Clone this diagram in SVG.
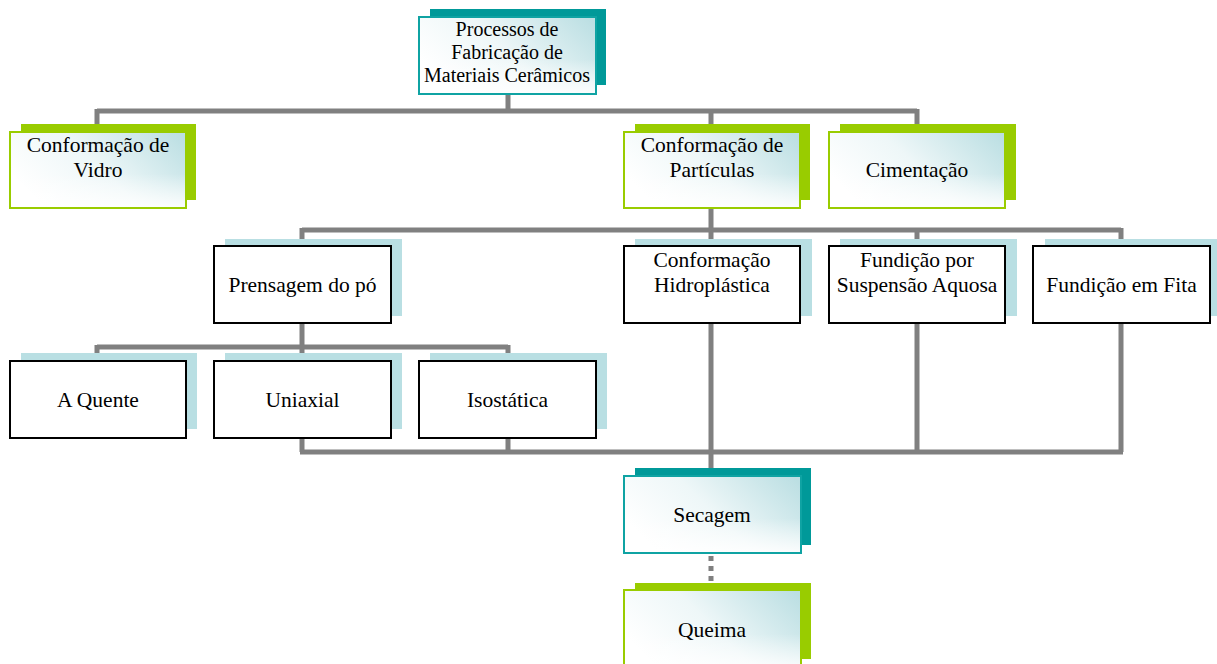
<svg xmlns="http://www.w3.org/2000/svg" width="1217" height="664" viewBox="0 0 1217 664">
<defs>
<linearGradient id="g" x1="0" y1="0.55" x2="1" y2="0.1">
<stop offset="0" stop-color="#ffffff"/>
<stop offset="0.45" stop-color="#eef7f8"/>
<stop offset="1" stop-color="#bcdfe3"/>
</linearGradient>
<linearGradient id="v" x1="0" y1="0" x2="0" y2="1">
<stop offset="0" stop-color="#ffffff" stop-opacity="0"/>
<stop offset="0.55" stop-color="#ffffff" stop-opacity="0"/>
<stop offset="1" stop-color="#ffffff" stop-opacity="0.85"/>
</linearGradient>
<style>
.c{stroke:#808080;stroke-width:5;fill:none}
.d{stroke:#808080;stroke-width:5;fill:none;stroke-dasharray:5 5}
.st{fill:#009999}
.sg{fill:#99cc00}
.sb{fill:#b9dfe3}
.ft{fill:url(#g);stroke:#0fa3a3;stroke-width:2}
.fg{fill:url(#g);stroke:#99cc00;stroke-width:2}
.ov{fill:url(#v);stroke:none}
.fw{fill:#ffffff;stroke:#000000;stroke-width:2}
text{font-family:'Liberation Serif','Times New Roman',Tinos,'DejaVu Serif',serif;font-size:21.5px;fill:#000;text-anchor:middle}
#n-root text{font-size:20px}
</style>
</defs>
<g id="connectors">
<path class="c" d="M508 94V111M97 111H917M97 109V126M711 109V126M917 109V126"/>
<path class="c" d="M711 208V230M302 230H1121M302 228V241M711 228V241M917 228V241M1121 228V241"/>
<path class="c" d="M302 323V347M97 347H508M97 345V355M302 345V355M508 345V355"/>
<path class="c" d="M302 438V452M508 438V452M917 323V452M1121 323V452M300 452H1123M711 323V470"/>
<path class="d" d="M711 556V585"/>
</g>
<g font-family="Liberation Serif, Times New Roman, serif">
<g id="n-root">
<rect class="st" x="430" y="9" width="176" height="76"/>
<rect class="ft" x="419" y="17" width="177" height="77"/>
<rect class="ov" x="420" y="18" width="175" height="75"/>
<text x="507" y="36">Processos de</text>
<text x="507" y="59">Fabricação de</text>
<text x="507" y="82">Materiais Cerâmicos</text>
</g>
<g id="n-vidro">
<rect class="sg" x="21" y="124" width="175" height="76"/>
<rect class="fg" x="10" y="132" width="176" height="76"/>
<rect class="ov" x="11" y="133" width="174" height="74"/>
<text x="98" y="152">Conformação de</text>
<text x="98" y="177">Vidro</text>
</g>
<g id="n-particulas">
<rect class="sg" x="635" y="124" width="175" height="76"/>
<rect class="fg" x="624" y="132" width="176" height="76"/>
<rect class="ov" x="625" y="133" width="174" height="74"/>
<text x="712" y="152">Conformação de</text>
<text x="712" y="177">Partículas</text>
</g>
<g id="n-cimentacao">
<rect class="sg" x="840" y="124" width="176" height="76"/>
<rect class="fg" x="829" y="132" width="176" height="76"/>
<rect class="ov" x="830" y="133" width="174" height="74"/>
<text x="917" y="177">Cimentação</text>
</g>
<g id="n-prensagem">
<rect class="sb" x="225" y="239" width="177" height="77"/>
<rect class="fw" x="214" y="246" width="177" height="77"/>
<text x="302.5" y="292">Prensagem do pó</text>
</g>
<g id="n-hidroplastica">
<rect class="sb" x="635" y="239" width="177" height="77"/>
<rect class="fw" x="624" y="246" width="176" height="77"/>
<text x="712" y="267">Conformação</text>
<text x="712" y="292">Hidroplástica</text>
</g>
<g id="n-suspensao">
<rect class="sb" x="840" y="239" width="177" height="77"/>
<rect class="fw" x="829" y="246" width="176" height="77"/>
<text x="917" y="267">Fundição por</text>
<text x="917" y="292">Suspensão Aquosa</text>
</g>
<g id="n-fita">
<rect class="sb" x="1045" y="239" width="172" height="77"/>
<rect class="fw" x="1033" y="246" width="177" height="77"/>
<text x="1121.5" y="292">Fundição em Fita</text>
</g>
<g id="n-quente">
<rect class="sb" x="21" y="353" width="176" height="76"/>
<rect class="fw" x="10" y="361" width="176" height="77"/>
<text x="98" y="407">A Quente</text>
</g>
<g id="n-uniaxial">
<rect class="sb" x="225" y="353" width="177" height="76"/>
<rect class="fw" x="214" y="361" width="177" height="77"/>
<text x="302.5" y="407">Uniaxial</text>
</g>
<g id="n-isostatica">
<rect class="sb" x="430" y="353" width="177" height="76"/>
<rect class="fw" x="419" y="361" width="177" height="77"/>
<text x="507.5" y="407">Isostática</text>
</g>
<g id="n-secagem">
<rect class="st" x="635" y="468" width="176" height="77"/>
<rect class="ft" x="624" y="476" width="177" height="77"/>
<rect class="ov" x="625" y="477" width="175" height="75"/>
<text x="712" y="522">Secagem</text>
</g>
<g id="n-queima">
<rect class="sg" x="635" y="583" width="176" height="76"/>
<rect class="fg" x="624" y="590" width="177" height="80"/>
<rect class="ov" x="625" y="591" width="175" height="78"/>
<text x="712" y="637">Queima</text>
</g>
</g>
</svg>
